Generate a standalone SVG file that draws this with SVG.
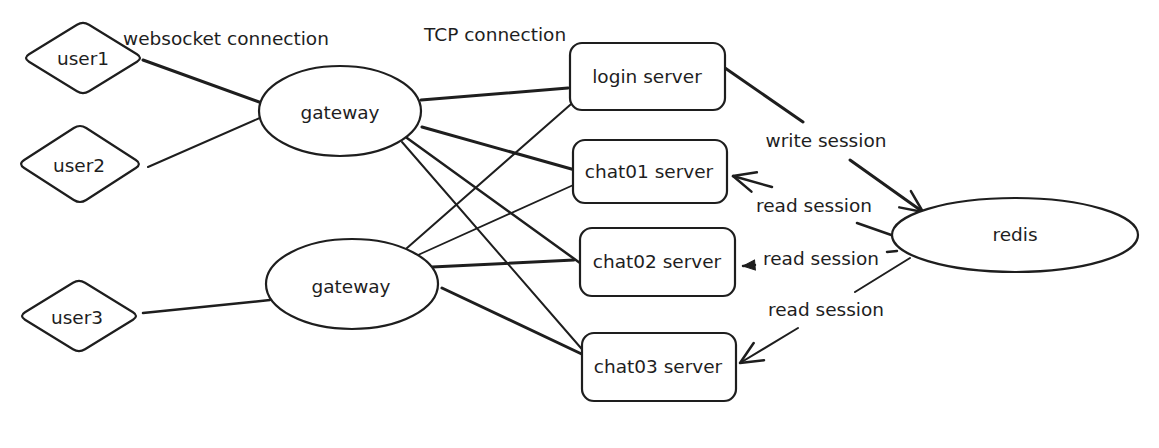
<svg xmlns="http://www.w3.org/2000/svg" width="1159" height="448" viewBox="0 0 1159 448">
<style>
.shape{fill:#ffffff;stroke:#1e1e1e;stroke-width:2.2;stroke-linejoin:round}
.t{font-family:"DejaVu Sans","Liberation Sans",sans-serif;font-size:18.5px;fill:#1e1e1e;text-anchor:middle}
.tl{font-family:"DejaVu Sans","Liberation Sans",sans-serif;font-size:18.5px;fill:#1e1e1e}
.c{fill:none;stroke:#1e1e1e;stroke-linecap:round;stroke-linejoin:round}
.w3{stroke-width:3}
.w25{stroke-width:2.5}
.w2{stroke-width:2}
</style>
<defs>
<marker id="open" viewBox="0 0 26 24" refX="24" refY="12" markerWidth="26" markerHeight="24" markerUnits="userSpaceOnUse" orient="auto">
<path d="M2,2 L24,12 L2,22" fill="none" stroke="#1e1e1e" stroke-width="2.5" stroke-linecap="round" stroke-linejoin="round"/>
</marker>
<marker id="small" viewBox="0 0 14 12" refX="13" refY="6" markerWidth="14" markerHeight="12" markerUnits="userSpaceOnUse" orient="auto">
<path d="M1,1 L13,6 L1,11 Z" fill="#1e1e1e" stroke="#1e1e1e" stroke-width="1"/>
</marker>
</defs>
<rect width="1159" height="448" fill="#ffffff"/>

<g id="connectors">
<path class="c w3" d="M143,60 L270,106"/>
<path class="c w2" d="M148,167 L262,117"/>
<path class="c w25" d="M143,313 L270,300"/>
<path class="c w3" d="M421,100 L568,88"/>
<path class="c w3" d="M422,127 L575,170"/>
<path class="c w25" d="M407,138 L580,263"/>
<path class="c w2" d="M402,142 L587,355"/>
<path class="c w2" d="M407,248 L578,98"/>
<path class="c" stroke-width="1.8" d="M418,255 L580,182"/>
<path class="c w3" d="M432,267 L574,260"/>
<path class="c w3" d="M442,288 L588,357"/>
<path class="c w3" d="M725,68 L803,122 M850,160 L923,212" marker-end="url(#open)"/>
<path class="c w25" d="M897,237 L857,223 M772,187 L733,176" marker-end="url(#open)"/>
<path class="c w25" d="M897,251 L887,252 M755,265 L743,266" marker-end="url(#small)"/>
<path class="c w2" d="M910,258 L855,292 M798,328 L740,363" marker-end="url(#open)"/>
</g>

<g id="user1">
<path class="shape" d="M29,54.3 L77,24.7 Q83,21 89,24.7 L137,54.3 Q143,58 137,61.7 L89,91.3 Q83,95 77,91.3 L29,61.7 Q23,58 29,54.3 Z"/>
<text class="t" x="83" y="65">user1</text>
</g>
<g id="user2">
<path class="shape" d="M24.2,160 L73.8,128 Q80,124 86.2,128 L135.8,160 Q142,164 135.8,168 L86.2,200 Q80,204 73.8,200 L24.2,168 Q18,164 24.2,160 Z"/>
<text class="t" x="79" y="172">user2</text>
</g>
<g id="user3">
<path class="shape" d="M25,312.3 L73,282.7 Q79,279 85,282.7 L133,312.3 Q139,316 133,319.7 L85,349.3 Q79,353 73,349.3 L25,319.7 Q19,316 25,312.3 Z"/>
<text class="t" x="77" y="324">user3</text>
</g>
<g id="gateway1">
<ellipse class="shape" cx="340" cy="111" rx="81" ry="45"/>
<text class="t" x="340" y="119">gateway</text>
</g>
<g id="gateway2">
<ellipse class="shape" cx="352" cy="284" rx="86" ry="45"/>
<text class="t" x="351" y="293">gateway</text>
</g>
<g id="login-server">
<rect class="shape" x="570" y="43" width="155" height="67" rx="12"/>
<text class="t" x="647" y="83">login server</text>
</g>
<g id="chat01-server">
<rect class="shape" x="573" y="140" width="154" height="63" rx="12"/>
<text class="t" x="649" y="178">chat01 server</text>
</g>
<g id="chat02-server">
<rect class="shape" x="580" y="228" width="155" height="68" rx="12"/>
<text class="t" x="657" y="268">chat02 server</text>
</g>
<g id="chat03-server">
<rect class="shape" x="582" y="333" width="154" height="68" rx="12"/>
<text class="t" x="658" y="373">chat03 server</text>
</g>
<g id="redis">
<ellipse class="shape" cx="1015" cy="235" rx="123" ry="37"/>
<text class="t" x="1015" y="241">redis</text>
</g>

<g id="labels">
<text class="tl" x="123" y="45">websocket connection</text>
<text class="tl" x="424" y="41">TCP connection</text>
<text class="t" x="826" y="147">write session</text>
<text class="t" x="814" y="212">read session</text>
<text class="t" x="821" y="265">read session</text>
<text class="t" x="826" y="316">read session</text>
</g>
</svg>
